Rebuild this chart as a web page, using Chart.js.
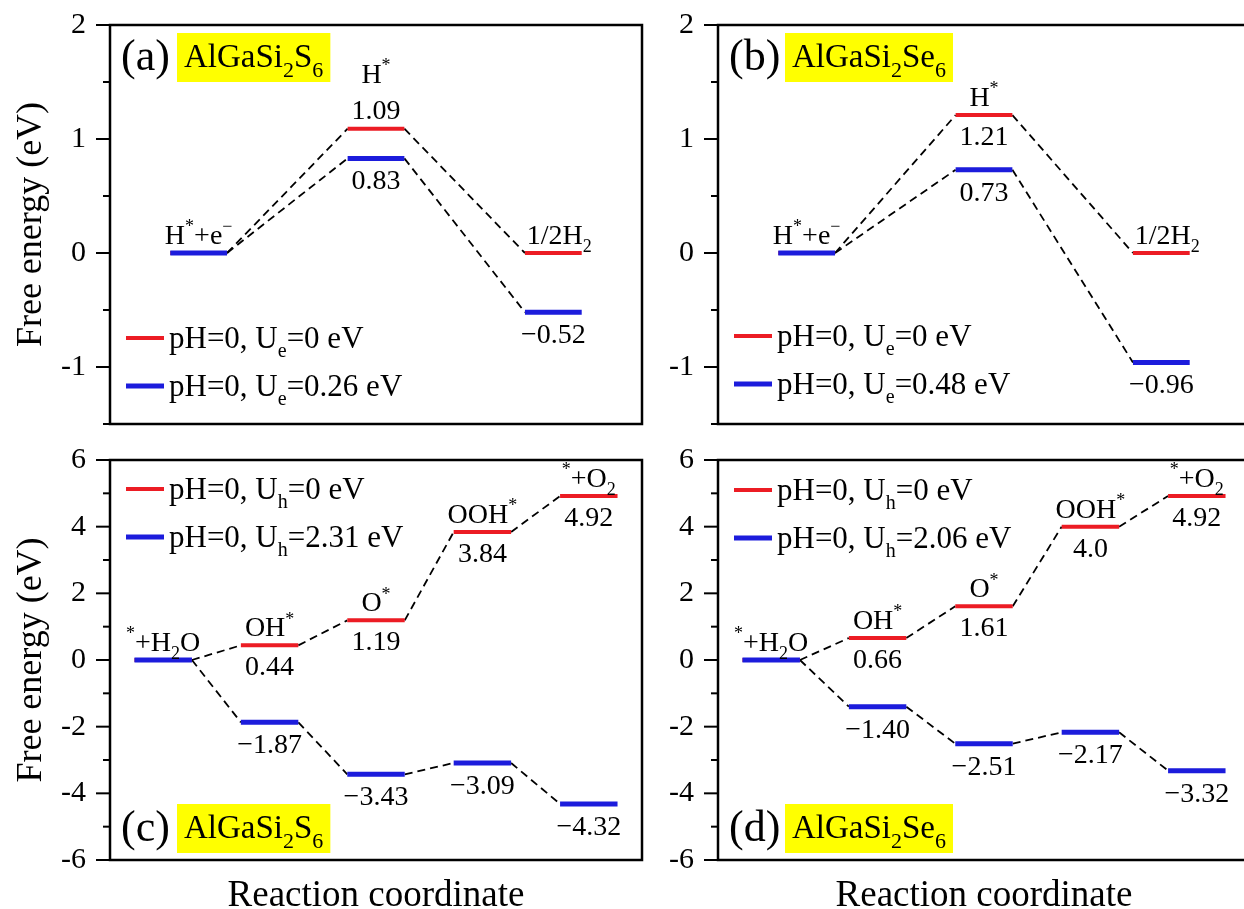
<!DOCTYPE html>
<html>
<head>
<meta charset="utf-8">
<title>Free energy diagrams</title>
<script src="https://cdn.jsdelivr.net/npm/chart.js@4.4.1/dist/chart.umd.min.js"></script>
<style>
    html, body {
        margin: 0;
        padding: 0;
        background: #fff;
        overflow: hidden;
        width: 1244px;
        height: 909px;
    }
    .panel {
        position: absolute;
    }
    .panel canvas {
        display: block;
    }
</style>
</head>
<body>
<div class="panel" style="left:0;top:0"><canvas id="chart-a" width="644" height="440"></canvas></div>
<div class="panel" style="left:642px;top:0"><canvas id="chart-b" width="610" height="440"></canvas></div>
<div class="panel" style="left:0;top:440px"><canvas id="chart-c" width="644" height="469"></canvas></div>
<div class="panel" style="left:642px;top:440px"><canvas id="chart-d" width="610" height="469"></canvas></div>
<script>
// HER steps (panels a, b)
const herSteps = ["H^*+e^−", "H^*", "1/2H_2"];
const herRedS6 = [0, 1.09, 0];
const herBlueS6 = [0, 0.83, -0.52];
const herRedTextS6 = ["", "1.09", ""];
const herBlueTextS6 = ["", "0.83", "−0.52"];
const herRedSe6 = [0, 1.21, 0];
const herBlueSe6 = [0, 0.73, -0.96];
const herRedTextSe6 = ["", "1.21", ""];
const herBlueTextSe6 = ["", "0.73", "−0.96"];
const herLegendS6 = ["pH=0, U_e=0 eV", "pH=0, U_e=0.26 eV"];
const herLegendSe6 = ["pH=0, U_e=0 eV", "pH=0, U_e=0.48 eV"];
const herYRange = [-1.5, 2];
const herYTicks = [1, 0.5]; // major, minor

// OER steps (panels c, d)
const oerSteps = ["^*+H_2O", "OH^*", "O^*", "OOH^*", "^*+O_2"];
const oerRedS6 = [0, 0.44, 1.19, 3.84, 4.92];
const oerBlueS6 = [0, -1.87, -3.43, -3.09, -4.32];
const oerRedTextS6 = ["", "0.44", "1.19", "3.84", "4.92"];
const oerBlueTextS6 = ["", "−1.87", "−3.43", "−3.09", "−4.32"];
const oerRedSe6 = [0, 0.66, 1.61, 4.0, 4.92];
const oerBlueSe6 = [0, -1.40, -2.51, -2.17, -3.32];
const oerRedTextSe6 = ["", "0.66", "1.61", "4.0", "4.92"];
const oerBlueTextSe6 = ["", "−1.40", "−2.51", "−2.17", "−3.32"];
const oerLegendS6 = ["pH=0, U_h=0 eV", "pH=0, U_h=2.31 eV"];
const oerLegendSe6 = ["pH=0, U_h=0 eV", "pH=0, U_h=2.06 eV"];
const oerYRange = [-6, 6];
const oerYTicks = [2, 1];

const FONT = '"Liberation Serif", "Times New Roman", serif';
const RED = "#ec1c24";
const BLUE = "#1c1cdc";

function parseRich(str) {
    const runs = [];
    let buf = "";
    let i = 0;
    const flush = () => {
        if (buf) runs.push({ t: buf, k: 0 });
        buf = "";
    };
    while (i < str.length) {
        const c = str[i];
        if (c === "^" || c === "_") {
            flush();
            runs.push({ t: str[i + 1], k: c === "^" ? 1 : -1 });
            i += 2;
        } else {
            buf += c;
            i++;
        }
    }
    flush();
    return runs;
}

function runFont(r, size) {
    return `${r.k ? Math.round(size * 0.66) : size}px ${FONT}`;
}

function measureRich(ctx, str, size) {
    return parseRich(str).reduce((w, r) => {
        ctx.font = runFont(r, size);
        return w + ctx.measureText(r.t).width;
    }, 0);
}

function drawRich(ctx, str, x, y, size, align) {
    const w = measureRich(ctx, str, size);
    let cx = align === "center" ? x - w / 2 : x;
    ctx.textAlign = "left";
    ctx.textBaseline = "alphabetic";
    ctx.fillStyle = "#000";
    parseRich(str).forEach((r) => {
        ctx.font = runFont(r, size);
        const dy = r.k === 1 ? -size * 0.42 : r.k === -1 ? size * 0.3 : 0;
        ctx.fillText(r.t, cx, y + dy);
        cx += ctx.measureText(r.t).width;
    });
    return w;
}

const diagramPlugin = {
    id: "diagram",
    afterDraw(chart, args, o) {
        const { ctx, chartArea: a } = chart;
        const y = chart.scales.y;
        const xs = chart.scales.x;
        ctx.save();

        // frame and outward y ticks
        ctx.strokeStyle = "#000";
        ctx.lineWidth = 2.5;
        ctx.strokeRect(a.left, a.top, a.right - a.left, a.bottom - a.top);
        ctx.lineWidth = 2;
        for (let v = y.min; v <= y.max + 1e-9; v += o.minor) {
            const py = y.getPixelForValue(v);
            const major = Math.abs(v / o.major - Math.round(v / o.major)) < 1e-6;
            ctx.beginPath();
            ctx.moveTo(a.left, py);
            ctx.lineTo(a.left - (major ? 14 : 7), py);
            ctx.stroke();
        }

        // step names and values
        o.steps.forEach((name, i) => {
            const cx = xs.getPixelForValue(i + 0.5);
            const yRed = y.getPixelForValue(o.red[i]);
            const yBlue = y.getPixelForValue(o.blue[i]);
            const yTop = Math.min(yRed, yBlue);
            if (o.redText[i] && o.redAbove) {
                drawRich(ctx, o.redText[i], cx, yRed - 10, 28, "center");
                drawRich(ctx, name, cx, yRed - 46, 28, "center");
            } else {
                drawRich(ctx, name, cx + (o.nameShift[i] || 0), yTop - 9, 28, "center");
                if (o.redText[i]) drawRich(ctx, o.redText[i], cx, yRed + 30, 28, "center");
            }
            if (o.blueText[i]) drawRich(ctx, o.blueText[i], cx, yBlue + 31, 28, "center");
        });

        // legend
        o.legend.forEach((text, i) => {
            const ly = a.top + o.legendTop + i * 48;
            ctx.strokeStyle = i === 0 ? RED : BLUE;
            ctx.lineWidth = i === 0 ? 4 : 5;
            ctx.beginPath();
            ctx.moveTo(a.left + 16, ly);
            ctx.lineTo(a.left + 54, ly);
            ctx.stroke();
            drawRich(ctx, text, a.left + 59, ly + 10, 31, "left");
        });

        // panel tag with yellow box
        const base = o.tagAtTop ? a.top + 42 : a.bottom - 22;
        drawRich(ctx, o.tag, a.left + 11, base + 3, 44, "left");
        const boxLeft = a.left + 67;
        const w = measureRich(ctx, o.material, 33);
        ctx.fillStyle = "#ffff00";
        ctx.fillRect(boxLeft, base - 34, w + 14, 49);
        drawRich(ctx, o.material, boxLeft + 7, base, 33, "left");

        ctx.restore();
    },
};

function buildDatasets(red, blue, halfWidth) {
    const bars = (vals) =>
        vals.flatMap((v, i) => [
            { x: i + 0.5 - halfWidth, y: v },
            { x: i + 0.5 + halfWidth, y: v },
            { x: i + 0.5 + halfWidth, y: null },
        ]);
    const links = (vals) =>
        vals.slice(1).flatMap((v, i) => [
            { x: i + 0.5 + halfWidth, y: vals[i] },
            { x: i + 1.5 - halfWidth, y: v },
            { x: i + 1.5 - halfWidth, y: null },
        ]);
    const common = { pointRadius: 0, fill: false, tension: 0, spanGaps: false, borderCapStyle: "butt" };
    return [
        { ...common, data: bars(blue), borderColor: BLUE, borderWidth: 5 },
        { ...common, data: bars(red), borderColor: RED, borderWidth: 4 },
        { ...common, data: links(blue), borderColor: "#000", borderWidth: 1.8, borderDash: [8, 5] },
        { ...common, data: links(red), borderColor: "#000", borderWidth: 1.8, borderDash: [8, 5] },
    ];
}

function makeChart(id, cfg) {
    return new Chart(document.getElementById(id), {
        type: "line",
        data: { datasets: buildDatasets(cfg.red, cfg.blue, cfg.halfWidth) },
        options: {
            responsive: false,
            animation: false,
            events: [],
            layout: { padding: { top: cfg.padTop, right: 2, left: 0, bottom: 0 } },
            plugins: {
                legend: { display: false },
                tooltip: { enabled: false },
                diagram: {
                    steps: cfg.steps,
                    red: cfg.red,
                    blue: cfg.blue,
                    redText: cfg.redText,
                    blueText: cfg.blueText,
                    redAbove: cfg.redAbove,
                    nameShift: cfg.nameShift || [],
                    legend: cfg.legend,
                    legendTop: cfg.legendTop,
                    major: cfg.ticks[0],
                    minor: cfg.ticks[1],
                    tag: cfg.tag,
                    material: cfg.material,
                    tagAtTop: cfg.tagAtTop,
                },
            },
            scales: {
                x: {
                    type: "linear",
                    min: 0,
                    max: cfg.steps.length,
                    ticks: { display: false },
                    grid: { display: false, drawTicks: false },
                    border: { display: false },
                    title: {
                        display: cfg.xTitle,
                        text: "Reaction coordinate",
                        color: "#000",
                        font: { family: FONT, size: 37, lineHeight: 0.7 },
                        padding: 0,
                    },
                    afterFit: (s) => {
                        s.height = cfg.xHeight;
                        s.paddingLeft = 0;
                        s.paddingRight = 0;
                    },
                },
                y: {
                    min: cfg.yRange[0],
                    max: cfg.yRange[1],
                    ticks: {
                        stepSize: cfg.ticks[0],
                        includeBounds: false,
                        color: "#000",
                        padding: 24,
                        font: { family: FONT, size: 30 },
                        callback: (v) => (Number.isInteger(v) ? String(v) : ""),
                    },
                    grid: { display: false, drawTicks: false },
                    border: { display: false },
                    title: {
                        display: cfg.yTitle,
                        text: "Free energy (eV)",
                        color: "#000",
                        font: { family: FONT, size: 36, lineHeight: 1 },
                        padding: { top: 14, bottom: 0 },
                    },
                    afterFit: (s) => {
                        s.width = cfg.yWidth;
                        s.paddingTop = 0;
                        s.paddingBottom = 0;
                    },
                },
            },
        },
        plugins: [diagramPlugin],
    });
}

makeChart("chart-a", {
    steps: herSteps, red: herRedS6, blue: herBlueS6,
    redText: herRedTextS6, blueText: herBlueTextS6, redAbove: true,
    nameShift: [0, 0, 6],
    legend: herLegendS6, legendTop: 313,
    yRange: herYRange, ticks: herYTicks, halfWidth: 0.16,
    tag: "(a)", material: "AlGaSi_2S_6", tagAtTop: true,
    padTop: 25, xHeight: 16, yWidth: 110, xTitle: false, yTitle: true,
});

makeChart("chart-b", {
    steps: herSteps, red: herRedSe6, blue: herBlueSe6,
    redText: herRedTextSe6, blueText: herBlueTextSe6, redAbove: false,
    nameShift: [0, 0, 6],
    legend: herLegendSe6, legendTop: 311,
    yRange: herYRange, ticks: herYTicks, halfWidth: 0.16,
    tag: "(b)", material: "AlGaSi_2Se_6", tagAtTop: true,
    padTop: 25, xHeight: 16, yWidth: 76, xTitle: false, yTitle: false,
});

makeChart("chart-c", {
    steps: oerSteps, red: oerRedS6, blue: oerBlueS6,
    redText: oerRedTextS6, blueText: oerBlueTextS6, redAbove: false,
    legend: oerLegendS6, legendTop: 29,
    yRange: oerYRange, ticks: oerYTicks, halfWidth: 0.27,
    tag: "(c)", material: "AlGaSi_2S_6", tagAtTop: false,
    padTop: 20, xHeight: 49, yWidth: 110, xTitle: true, yTitle: true,
});

makeChart("chart-d", {
    steps: oerSteps, red: oerRedSe6, blue: oerBlueSe6,
    redText: oerRedTextSe6, blueText: oerBlueTextSe6, redAbove: false,
    legend: oerLegendSe6, legendTop: 30,
    yRange: oerYRange, ticks: oerYTicks, halfWidth: 0.27,
    tag: "(d)", material: "AlGaSi_2Se_6", tagAtTop: false,
    padTop: 20, xHeight: 49, yWidth: 76, xTitle: true, yTitle: false,
});
</script>
</body>
</html>
